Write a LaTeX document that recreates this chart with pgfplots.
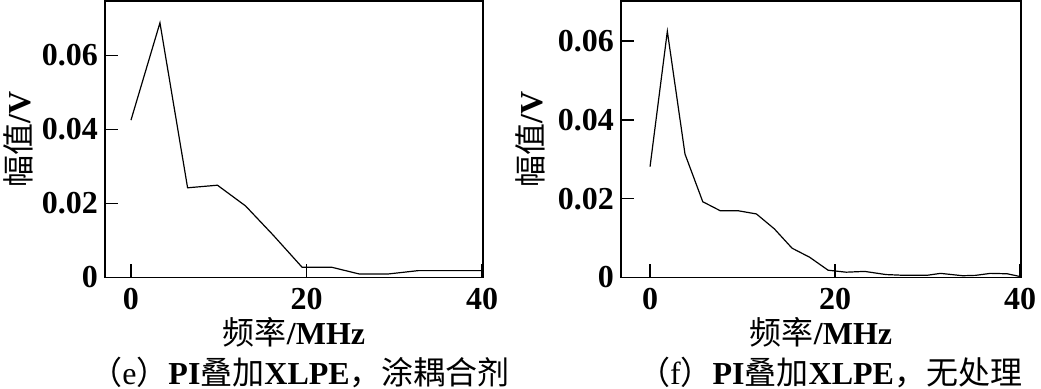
\documentclass[border=0pt]{standalone}
\usepackage{fontspec}
\setmainfont{Liberation Serif}
\newfontfamily\cjk{Noto Sans CJK SC}
\newcommand{\zh}[1]{{\cjk\mdseries #1}}
\usepackage{pgfplots}
\pgfplotsset{compat=1.18}
\pgfplotsset{myax/.style={
  scale only axis, height=138.15pt,
  ymin=0,
  axis line style={line width=0.8pt},
  tick style={black, line width=0.8pt},
  major tick length=6.5pt,
  tick align=inside,
  xtick pos=lower, ytick pos=left,
  xtick={0,20,40},
  ytick={0,0.02,0.04,0.06}, yticklabels={0,0.02,0.04,0.06},
  /pgf/number format/assume math mode=true,
  tick label style={font=\fontsize{16}{19}\selectfont\bfseries},
  xticklabel style={yshift=-2pt},
  clip=false,
}}
\begin{document}
\begin{tikzpicture}
\path[use as bounding box] (0,0) rectangle (520.5pt,194pt);
\begin{axis}[myax, width=189pt, at={(52.5pt,55.35pt)}, anchor=south west,
  xmin=-2.96, xmax=40.1, ymax=0.0747,
  every axis y label/.style={at={(axis description cs:-0.230,0.5)}, rotate=90, anchor=center, font=\fontsize{16}{19}\selectfont\bfseries},
  every axis x label/.style={at={(axis description cs:0.5,-0.198)}, anchor=center, font=\fontsize{16}{19}\selectfont\bfseries},
  ylabel={\zh{幅值}/V}, xlabel={\zh{频率}/MHz}]
\addplot[black, line width=0.6pt] coordinates {
(0,0.0425) (3.3,0.0688) (6.45,0.0242) (9.85,0.0249) (13.05,0.0193) (16.2,0.0114)
(19.5,0.0027) (22.9,0.0027) (26,0.0009) (29.3,0.0009) (32.7,0.0018) (40,0.0018)};
\node[font=\fontsize{16}{19}\selectfont\bfseries, anchor=center] at (axis description cs:0.516,-0.343)
  {\zh{（}{\mdseries e}\zh{）}PI\zh{叠加}XLPE\zh{，涂耦合剂}};
\end{axis}
\begin{axis}[myax, width=200pt, at={(310.5pt,55.35pt)}, anchor=south west,
  xmin=-3.14, xmax=40.1, ymax=0.0702,
  every axis y label/.style={at={(axis description cs:-0.2275,0.5)}, rotate=90, anchor=center, font=\fontsize{16}{19}\selectfont\bfseries},
  every axis x label/.style={at={(axis description cs:0.5,-0.198)}, anchor=center, font=\fontsize{16}{19}\selectfont\bfseries},
  ylabel={\zh{幅值}/V}, xlabel={\zh{频率}/MHz}]
\addplot[black, line width=0.6pt] coordinates {
(0,0.0281) (1.87,0.0625) (3.78,0.0313) (5.7,0.0192) (7.6,0.0169) (9.55,0.0169)
(11.5,0.0161) (13.44,0.0123) (15.35,0.0074) (17.25,0.0051) (19.25,0.0018)
(21.2,0.0013) (23.2,0.0015) (25.5,0.0007) (27.5,0.0005) (29.9,0.0005)
(31.4,0.0010) (33.8,0.0004) (35.2,0.0005) (36.8,0.0010) (38.6,0.0009) (40,0.0002)};
\node[font=\fontsize{16}{19}\selectfont\bfseries, anchor=center] at (axis description cs:0.5225,-0.343)
  {\zh{（}{\mdseries f}\zh{）}PI\zh{叠加}XLPE\zh{，无处理}};
\end{axis}
\end{tikzpicture}
\end{document}
